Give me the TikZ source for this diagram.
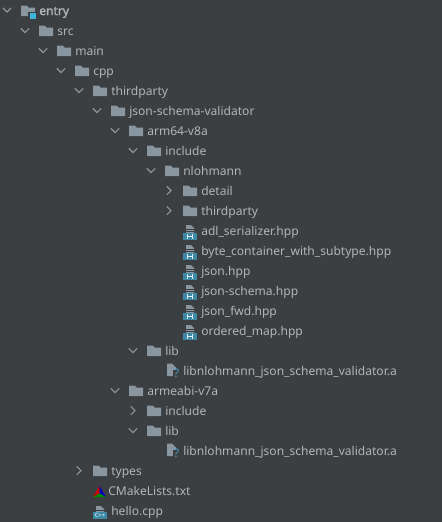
\documentclass[tikz,border=0pt]{standalone}
\usepackage{fontspec}
\setmainfont{Noto Sans}
\newfontfamily\entryfont[FakeBold=1.6]{Noto Sans}
\definecolor{bg}{HTML}{3C3F41}
\definecolor{txt}{HTML}{B0B5B8}
\definecolor{fold}{HTML}{8A969F}
\definecolor{chev}{HTML}{92969A}
\definecolor{blu}{HTML}{3E89A6}
\definecolor{cyn}{HTML}{3DB4DC}
\definecolor{qm}{HTML}{4C9CC4}
\tikzset{x=0.75pt,y=-0.75pt,
 lbl/.style={anchor=west,inner sep=0pt,text height=6.8pt,text depth=0pt,text=txt,font=\fontsize{9.05pt}{11pt}\selectfont},
 chv/.style={draw=chev,line width=0.8pt,line cap=round,line join=miter},
 folderpic/.pic={\fill[fold] (0,-4.8)--(6,-4.8)--(7.5,-3)--(14,-3)--(14,5.5)--(0,5.5)--cycle;},
 filetop/.pic={\fill[fold] (3,-5.5)--(8,-5.5)--(11,-2.5)--(11,2.5)--(3,2.5)--cycle;
   \draw[bg,line width=0.5pt] (3,-1.5)--(11,-1.5) (3,0.5)--(11,0.5);},
 hpp/.pic={\pic{filetop};\fill[blu] (0,2.5) rectangle (14,9.5);
   \draw[white!85!blu,line width=0.7pt] (4,3.8)--(4,8.2) (9,3.8)--(9,8.2) (4,6)--(9,6);},
 cpppic/.pic={\pic[yshift=-0.75pt]{filetop};\fill[blu] (0,1.5) rectangle (14,8.5);
   \node[inner sep=0pt,text=white,font=\fontsize{4.4pt}{5pt}\selectfont\bfseries] at (7,5) {C++};},
 libpic/.pic={\fill[fold] (2,-7)--(7,-7)--(11,-3)--(11,5.5)--(2,5.5)--cycle;
   \fill[bg] (8,-1) rectangle (15,8);
   \node[inner sep=0pt,text=qm,font=\fontsize{9pt}{9pt}\selectfont\bfseries] at (11.5,2.5) {?};},
 cmakepic/.pic={\fill[red!80!black] (6.5,-4.5)--(0,6.5)--(6.5,3)--cycle;\fill[blue!75!black] (6.5,-4.5)--(13,6.5)--(6.5,3)--cycle;\fill[green!55!black] (0,6.5)--(13,6.5)--(6.5,3)--cycle;},
}
\newcommand{\chvopen}[2]{\draw[chv] (#1-4,#2-2)--(#1,#2+2)--(#1+4,#2-2);}
\newcommand{\chvclosed}[2]{\draw[chv] (#1-2,#2-4)--(#1+2,#2)--(#1-2,#2+4);}
\newcommand{\dirrow}[5]{% name, level, y, open/closed, text
  \pgfmathsetmacro{\cx}{7+18*#2}\pgfmathsetmacro{\ix}{21+18*#2}\pgfmathsetmacro{\tx}{39+18*#2}
  \csname chv#4\endcsname{\cx}{#3}
  \pic at (\ix,#3) {folderpic};
  \node[lbl] (#1) at (\tx,#3) {#5};}
\newcommand{\filerow}[5]{% name, level, y, icon, text
  \pgfmathsetmacro{\ix}{21+18*#2}\pgfmathsetmacro{\tx}{39+18*#2}
  \pic at (\ix,#3) {#4};
  \node[lbl] (#1) at (\tx,#3) {#5};}
\begin{document}
\begin{tikzpicture}
\fill[bg] (0,0) rectangle (442,522);
\useasboundingbox (0,0) rectangle (442,522);
\chvopen{7}{10}
\pic at (21,10.5) {folderpic};
\fill[bg] (28,12) rectangle (37,20);
\fill[cyn] (29.5,13) rectangle (36,19);
\node[lbl,font=\fontsize{9.05pt}{11pt}\entryfont] (entry) at (39,10.5) {entry};
\dirrow{src}{1}{30.5}{open}{src}
\dirrow{main}{2}{50.5}{open}{main}
\dirrow{cpp}{3}{70.5}{open}{cpp}
\dirrow{tp}{4}{90.5}{open}{thirdparty}
\dirrow{jsv}{5}{110.5}{open}{json-schema-validator}
\dirrow{arm}{6}{130.5}{open}{arm64-v8a}
\dirrow{inc}{7}{150.5}{open}{include}
\dirrow{nl}{8}{170.5}{open}{nlohmann}
\dirrow{det}{9}{190.5}{closed}{detail}
\dirrow{tpb}{9}{210.5}{closed}{thirdparty}
\filerow{adl}{9}{230.5}{hpp}{adl\_serializer.hpp}
\filerow{byte}{9}{250.5}{hpp}{byte\_container\_with\_subtype.hpp}
\filerow{json}{9}{270.5}{hpp}{json.hpp}
\filerow{jsch}{9}{290.5}{hpp}{json-schema.hpp}
\filerow{jfwd}{9}{310.5}{hpp}{json\_fwd.hpp}
\filerow{omap}{9}{330.5}{hpp}{ordered\_map.hpp}
\dirrow{lib}{7}{350.5}{open}{lib}
\filerow{liba}{8}{370.5}{libpic}{libnlohmann\_json\_schema\_validator.a}
\dirrow{armv}{6}{390.5}{open}{armeabi-v7a}
\dirrow{incb}{7}{410.5}{closed}{include}
\dirrow{libb}{7}{430.5}{open}{lib}
\filerow{libc}{8}{450.5}{libpic}{libnlohmann\_json\_schema\_validator.a}
\dirrow{types}{4}{470.5}{closed}{types}
\pic at (93,490.5) {cmakepic};
\node[lbl] (cmake) at (108,490.5) {CMakeLists.txt};
\filerow{hello}{4}{510.5}{cpppic}{hello.cpp}
\end{tikzpicture}
\end{document}
